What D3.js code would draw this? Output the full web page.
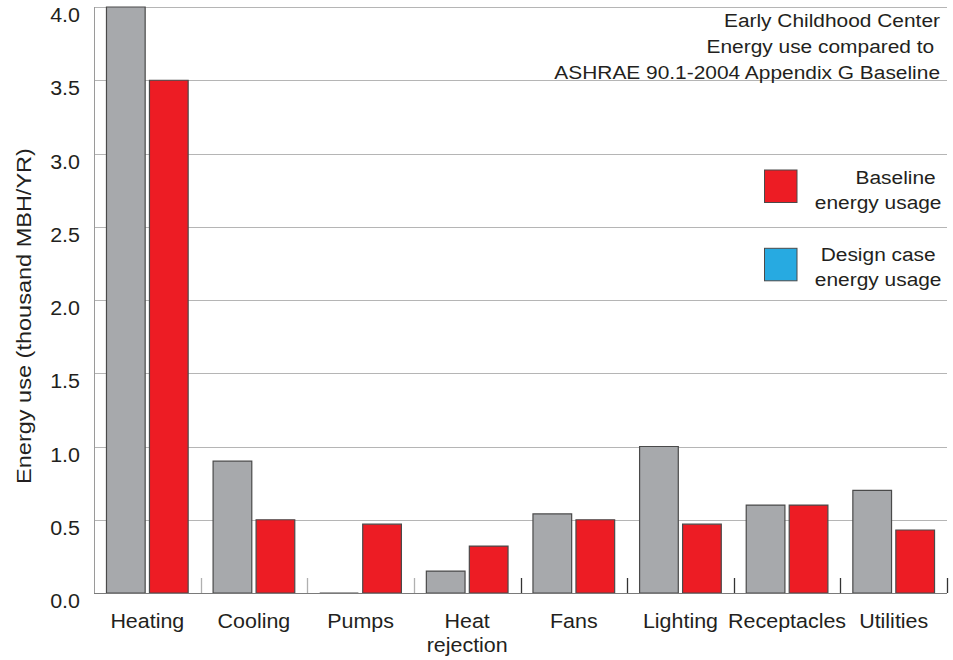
<!DOCTYPE html>
<html>
<head>
<meta charset="utf-8">
<script src="https://cdn.jsdelivr.net/npm/d3@7/dist/d3.min.js"></script>
<style>
  html, body { margin: 0; padding: 0; background: #fff; }
  svg { display: block; }
  text { font-family: "Liberation Sans", Arial, Helvetica, sans-serif; fill: #231f20; white-space: pre; }
</style>
</head>
<body>
<svg id="chart" width="953" height="660"></svg>
<script>
// ---- data ----
const categories = ["Heating", "Cooling", "Pumps", "Heat\nrejection", "Fans", "Lighting", "Receptacles", "Utilities"];
const grayValues = [4.0, 0.9, 0.0, 0.15, 0.54, 1.0, 0.6, 0.7];
const baselineValues = [3.5, 0.5, 0.47, 0.32, 0.5, 0.47, 0.6, 0.43];
const yTicks = [0.0, 0.5, 1.0, 1.5, 2.0, 2.5, 3.0, 3.5, 4.0];
const titleLines = ["Early Childhood Center", "Energy use compared to ", "ASHRAE 90.1-2004 Appendix G Baseline"];
const legendItems = [
  { lines: ["Baseline ", "energy usage"], color: "#ed1c24" },
  { lines: ["Design case ", "energy usage"], color: "#27aae1" }
];
const yTitle = "Energy use (thousand MBH/YR)";

// ---- layout ----
const svg = d3.select("#chart");
const M = { left: 94, right: 947, top: 7, bottom: 593 };
const SX = 1.1; // horizontal text stretch

const x = d3.scaleBand().domain(categories).range([M.left, M.right]).paddingInner(0).paddingOuter(0);
const sub = d3.scaleBand().domain(["gray", "baseline"]).range([0, x.bandwidth()]).paddingInner(0.1).paddingOuter(0.29);
const y = d3.scaleLinear().domain([0, 4]).range([M.bottom, M.top]);

function stext(parent, tx, ty, str, anchor, size, sx) {
  const g = parent.append("g").attr("transform", `translate(${tx},${ty}) scale(${sx || SX},1)`);
  g.append("text").attr("x", 0).attr("y", 0).attr("text-anchor", anchor).attr("font-size", size).text(str);
  return g;
}

// gridlines
svg.append("g").selectAll("line").data(yTicks.filter(d => d > 0)).join("line")
  .attr("x1", M.left).attr("x2", M.right)
  .attr("y1", d => Math.round(y(d)) + 0.5).attr("y2", d => Math.round(y(d)) + 0.5)
  .attr("stroke", "#b5b5b5").attr("stroke-width", 1);

// left axis line
svg.append("line").attr("x1", M.left + 0.5).attr("x2", M.left + 0.5).attr("y1", y(4)).attr("y2", y(0))
  .attr("stroke", "#9a9a9a").attr("stroke-width", 1);

// category separator ticks
const bounds = categories.map(c => x(c) + x.bandwidth());
svg.append("g").selectAll("line").data(bounds).join("line")
  .attr("x1", d => Math.round(d) + 0.5).attr("x2", d => Math.round(d) + 0.5)
  .attr("y1", y(0) - 15).attr("y2", y(0))
  .attr("stroke", (d, i) => i < 3 ? "#b0b0b0" : "#333333").attr("stroke-width", 1.3);

// bars
function barPath(x0, w, v) {
  const y0 = y(0), y1 = y(v);
  return `M${x0},${y0}V${y1}H${x0 + w}V${y0}`;
}
const barsG = svg.append("g");
categories.forEach((c, i) => {
  [["gray", grayValues[i], "#a7a9ac"], ["baseline", baselineValues[i], "#ed1c24"]].forEach(([k, v, col]) => {
    barsG.append("path")
      .attr("d", barPath(x(c) + sub(k), sub.bandwidth(), v) + (v > 0 ? "Z" : ""))
      .attr("fill", col)
      .attr("stroke", "#4a4a4a").attr("stroke-width", 1.2);
  });
});

// bottom axis line
svg.append("line").attr("x1", M.left).attr("x2", M.right).attr("y1", M.bottom + 0.5).attr("y2", M.bottom + 0.5)
  .attr("stroke", "#7a7a7a").attr("stroke-width", 1.2);

// y tick labels
yTicks.forEach(t => stext(svg, 80, y(t) + 15, t.toFixed(1), "end", 19.5));

// x labels
categories.forEach(c => {
  c.split("\n").forEach((line, j) => stext(svg, x(c) + x.bandwidth() / 2, 628 + j * 24, line, "middle", 19.5));
});

// y title
svg.append("g").attr("transform", `translate(31,316) rotate(-90) scale(1.12,1)`)
  .append("text").attr("text-anchor", "middle").attr("font-size", 21).text(yTitle);

// title
const titleBase = [26.7, 53.3, 79];
titleLines.forEach((t, i) => stext(svg, 940, titleBase[i], t, "end", 19));

// legend
const legendLayout = [
  { sq: 170, base: [183.5, 208.5] },
  { sq: 248.3, base: [260.5, 285.5] }
];
legendItems.forEach((it, i) => {
  const L = legendLayout[i];
  svg.append("rect").attr("x", 764.5).attr("y", L.sq).attr("width", 32.5).attr("height", 32.5)
    .attr("fill", it.color).attr("stroke", "#4a4a4a").attr("stroke-width", 1);
  it.lines.forEach((ln, j) => stext(svg, 941.5, L.base[j], ln, "end", 19));
});
</script>
</body>
</html>
